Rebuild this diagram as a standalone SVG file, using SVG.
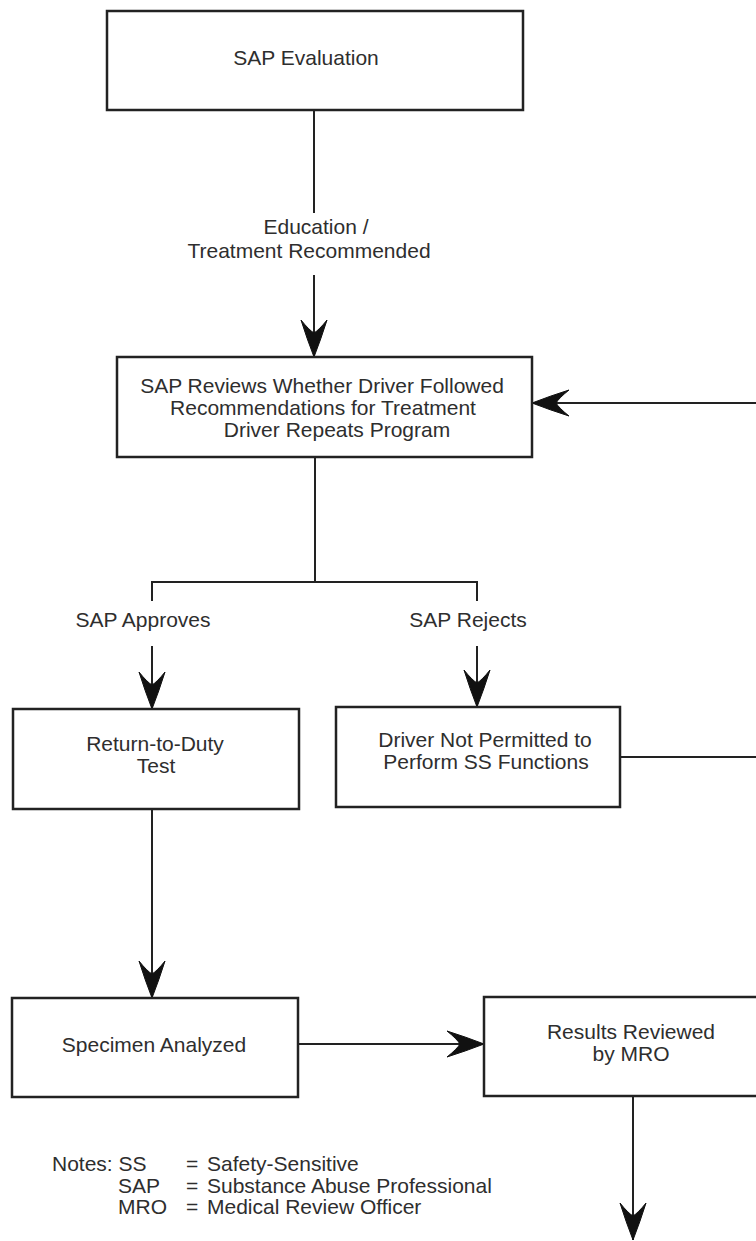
<svg xmlns="http://www.w3.org/2000/svg" width="756" height="1241" viewBox="0 0 756 1241">
<style>
.box{fill:#fff;stroke:#222;stroke-width:2.5}
.ln{fill:none;stroke:#222;stroke-width:2}
.t{font-family:"Liberation Sans",Arial,sans-serif;font-size:21px;fill:#2e2e2e;text-anchor:middle}
.n{font-family:"Liberation Sans",Arial,sans-serif;font-size:21px;fill:#2e2e2e}
</style>
<defs>
<marker id="ah" markerUnits="userSpaceOnUse" markerWidth="42" markerHeight="30" viewBox="-40 -15 42 30" refX="0" refY="0" orient="auto">
<path d="M0,0 Q-18,-7 -37,-13 Q-27,-5 -24,0 Q-27,5 -37,13 Q-18,7 0,0 Z" fill="#111" stroke="#111" stroke-width="1"/>
</marker>
</defs>
<rect width="756" height="1241" fill="#fff"/>
<g id="connectors">
<path class="ln" d="M314,110 V213"/>
<path class="ln" d="M314,275 V357" marker-end="url(#ah)"/>
<path class="ln" d="M315,457 V582 M152,601 V582 H477 V601"/>
<path class="ln" d="M152,646 V709" marker-end="url(#ah)"/>
<path class="ln" d="M477,646 V707" marker-end="url(#ah)"/>
<path class="ln" d="M620,757 H760"/>
<path class="ln" d="M760,403 H532" marker-end="url(#ah)"/>
<path class="ln" d="M152,809 V998" marker-end="url(#ah)"/>
<path class="ln" d="M298,1044 H484" marker-end="url(#ah)"/>
<path class="ln" d="M633,1096 V1240" marker-end="url(#ah)"/>
<text class="t" x="316" y="234">Education /</text>
<text class="t" x="309" y="258">Treatment Recommended</text>
<text class="t" x="143" y="627">SAP Approves</text>
<text class="t" x="468" y="627">SAP Rejects</text>
</g>
<g id="sap-evaluation">
<rect class="box" x="107" y="11" width="416" height="99"/>
<text class="t" x="306" y="65">SAP Evaluation</text>
</g>
<g id="sap-reviews">
<rect class="box" x="117" y="357" width="415" height="100"/>
<text class="t" x="322" y="393">SAP Reviews Whether Driver Followed</text>
<text class="t" x="323" y="415">Recommendations for Treatment</text>
<text class="t" x="337" y="437">Driver Repeats Program</text>
</g>
<g id="return-to-duty">
<rect class="box" x="13" y="709" width="286" height="100"/>
<text class="t" x="155" y="751">Return-to-Duty</text>
<text class="t" x="156" y="773">Test</text>
</g>
<g id="not-permitted">
<rect class="box" x="336" y="707" width="284" height="100"/>
<text class="t" x="485" y="747">Driver Not Permitted to</text>
<text class="t" x="486" y="769">Perform SS Functions</text>
</g>
<g id="specimen-analyzed">
<rect class="box" x="12" y="998" width="286" height="99"/>
<text class="t" x="154" y="1052">Specimen Analyzed</text>
</g>
<g id="results-reviewed">
<rect class="box" x="484" y="997" width="290" height="99"/>
<text class="t" x="631" y="1039">Results Reviewed</text>
<text class="t" x="631" y="1061">by MRO</text>
</g>
<g id="notes">
<text class="n" x="52" y="1171">Notes: SS</text>
<text class="n" x="186" y="1171">=</text>
<text class="n" x="207" y="1171">Safety-Sensitive</text>
<text class="n" x="118" y="1193">SAP</text>
<text class="n" x="186" y="1193">=</text>
<text class="n" x="207" y="1193">Substance Abuse Professional</text>
<text class="n" x="118" y="1214">MRO</text>
<text class="n" x="186" y="1214">=</text>
<text class="n" x="207" y="1214">Medical Review Officer</text>
</g>
</svg>
